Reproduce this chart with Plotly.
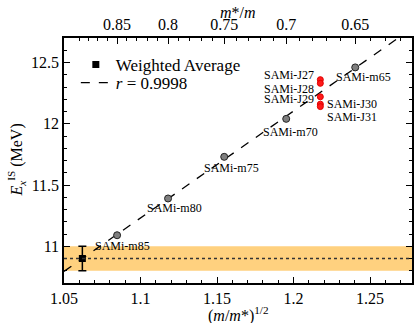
import numpy as np
import plotly.graph_objects as go

# ---- data ----
m_labels = ["SAMi-m85", "SAMi-m80", "SAMi-m75", "SAMi-m70", "SAMi-m65"]
m_x = [1.0847, 1.1180, 1.1547, 1.1952, 1.2403]
m_y = [11.09, 11.39, 11.73, 12.04, 12.46]

j_labels = ["SAMi-J27", "SAMi-J28", "SAMi-J29", "SAMi-J30", "SAMi-J31"]
j_x = [1.2175, 1.2175, 1.2175, 1.2175, 1.2175]
j_y = [12.36, 12.33, 12.22, 12.16, 12.14]

wa_x = [1.062]
wa_y = [10.90]
wa_err = [0.10]

r_value = "0.9998"
top_ticks = [0.85, 0.8, 0.75, 0.7, 0.65]
top_tick_text = ["0.85", "0.8", "0.75", "0.7", "0.65"]
top_minor = [round(0.60 + 0.01 * i, 2) for i in range(30)]
bottom_ticks = [1.05, 1.1, 1.15, 1.2, 1.25]
y_ticks = [11, 11.5, 12, 12.5]

FONT = "Liberation Serif"
XR = [1.05, 1.2774]
YR = [10.7, 12.7]

coef = np.polyfit(m_x, m_y, 1)
fit_x = np.array(XR)
fit_y = np.polyval(coef, fit_x)

fig = go.Figure()

# band and dotted line
fig.add_shape(type="rect", xref="paper", yref="y", x0=0, x1=1,
              y0=wa_y[0] - wa_err[0], y1=wa_y[0] + wa_err[0],
              fillcolor="#ffd17f", line=dict(width=0), layer="below")
fig.add_shape(type="line", xref="paper", yref="y", x0=0, x1=1,
              y0=wa_y[0], y1=wa_y[0], line=dict(color="#333", width=1.3, dash="dot"))

fig.add_trace(go.Scatter(
    x=wa_x, y=wa_y, mode="markers", name="Weighted Average", legend="legend",
    marker=dict(symbol="square", size=7, color="black"),
    error_y=dict(type="data", array=wa_err, color="black", thickness=1.5, width=4),
))
fig.add_trace(go.Scatter(
    x=fit_x, y=fit_y, mode="lines", name="<i>r</i> = " + r_value, legend="legend2",
    line=dict(color="black", width=1.3, dash="dash"),
))
fig.add_trace(go.Scatter(
    x=m_x, y=m_y, mode="markers", showlegend=False,
    marker=dict(size=7, color="#7f7f7f", line=dict(color="#222", width=1)),
))
fig.add_trace(go.Scatter(
    x=j_x, y=j_y, mode="markers", showlegend=False,
    marker=dict(size=6, color="#ff1a1a", line=dict(color="#e00000", width=1)),
))
# invisible traces to anchor the extra axes
top_pos = [1 / np.sqrt(v) for v in top_ticks]
minor_top_pos = [1 / np.sqrt(v) for v in top_minor]
for xa, ya in (("x2", "y"), ("x3", "y"), ("x", "y2")):
    fig.add_trace(go.Scatter(x=top_pos, y=[11] * len(top_pos), xaxis=xa, yaxis=ya,
                             mode="markers", marker=dict(opacity=0), showlegend=False,
                             hoverinfo="skip"))

# point labels
m_shift = [(-24, -11), (-23, -10), (-22, -11), (-25, -13), (-21, -10)]
for lab, x, y, (dx, dy) in zip(m_labels, m_x, m_y, m_shift):
    fig.add_annotation(x=x, y=y, text=lab, showarrow=False, xanchor="left",
                       yanchor="middle", xshift=dx, yshift=dy,
                       font=dict(family=FONT, size=12, color="black"))
j_shift = [(-4, 5, "right"), (-4, -6, "right"), (-4, -2, "right"),
           (5, 0, "left"), (5, -10, "left")]
for lab, x, y, (dx, dy, anc) in zip(j_labels, j_x, j_y, j_shift):
    fig.add_annotation(x=x, y=y, text=lab, showarrow=False, xanchor=anc,
                       yanchor="middle", xshift=dx, yshift=dy,
                       font=dict(family=FONT, size=12, color="black"))

# axis titles
fig.add_annotation(xref="paper", yref="paper", x=0.5, y=0, yshift=-31,
                   text="(<i>m</i>/<i>m</i>*)<sup>1/2</sup>", showarrow=False,
                   xanchor="center", yanchor="middle",
                   font=dict(family=FONT, size=16, color="black"))
fig.add_annotation(xref="paper", yref="paper", x=0.5, y=1, yshift=26,
                   text="<i>m</i>*/<i>m</i>", showarrow=False,
                   xanchor="center", yanchor="middle",
                   font=dict(family=FONT, size=16, color="black"))
fig.add_annotation(xref="paper", yref="paper", x=0, y=0.5, xshift=-48,
                   text="<i>E</i><sub><i>x</i></sub><sup>IS</sup> (MeV)", showarrow=False,
                   textangle=-90, xanchor="center", yanchor="middle",
                   font=dict(family=FONT, size=16, color="black"))

axis_common = dict(showgrid=False, zeroline=False, showline=True, linecolor="black",
                   linewidth=1.5, ticks="inside", ticklen=6, tickwidth=1.2,
                   tickcolor="black", automargin=False,
                   tickfont=dict(family=FONT, size=16, color="black"))
y_minor = dict(dtick=0.1, tick0=10.7, ticks="inside", ticklen=3,
               tickcolor="black", tickwidth=1)

fig.update_layout(
    width=418, height=323,
    margin=dict(l=64, r=6, t=38, b=40, autoexpand=False),
    plot_bgcolor="white", paper_bgcolor="white",
    font=dict(family=FONT, color="black"),
    xaxis=dict(range=XR, tickmode="array", tickvals=bottom_ticks,
               ticktext=[str(v) for v in bottom_ticks], mirror=False,
               minor=dict(dtick=0.01, tick0=1.05, ticks="inside",
                          ticklen=3, tickcolor="black", tickwidth=1),
               **axis_common),
    xaxis2=dict(range=XR, overlaying="x", side="top", anchor="y",
                tickmode="array", tickvals=top_pos, ticktext=top_tick_text,
                **axis_common),
    xaxis3=dict(range=XR, overlaying="x", side="top", anchor="y",
                tickmode="array", tickvals=minor_top_pos, showticklabels=False,
                showgrid=False, zeroline=False, showline=False, ticks="inside",
                ticklen=3, tickwidth=1, tickcolor="black", automargin=False),
    yaxis=dict(range=YR, tickmode="array", tickvals=y_ticks,
               ticktext=["11", "11.5", "12", "12.5"], mirror=False,
               minor=y_minor, **axis_common),
    yaxis2=dict(range=YR, overlaying="y", side="right", anchor="x",
                tickmode="array", tickvals=y_ticks, showticklabels=False,
                minor=y_minor, **axis_common),
    legend=dict(x=0.034, y=0.89, xanchor="left", yanchor="middle",
                bgcolor="rgba(0,0,0,0)", font=dict(family=FONT, size=17),
                itemwidth=30),
    legend2=dict(x=0.034, y=0.816, xanchor="left", yanchor="middle",
                 bgcolor="rgba(0,0,0,0)", font=dict(family=FONT, size=17),
                 itemwidth=30),
    showlegend=True,
)

fig.write_html(
    "out.html", config={"displayModeBar": False},
    post_script=("document.body.style.margin='0';"
                 "document.body.style.overflow='hidden';"
                 "document.documentElement.style.overflow='hidden';"),
)
